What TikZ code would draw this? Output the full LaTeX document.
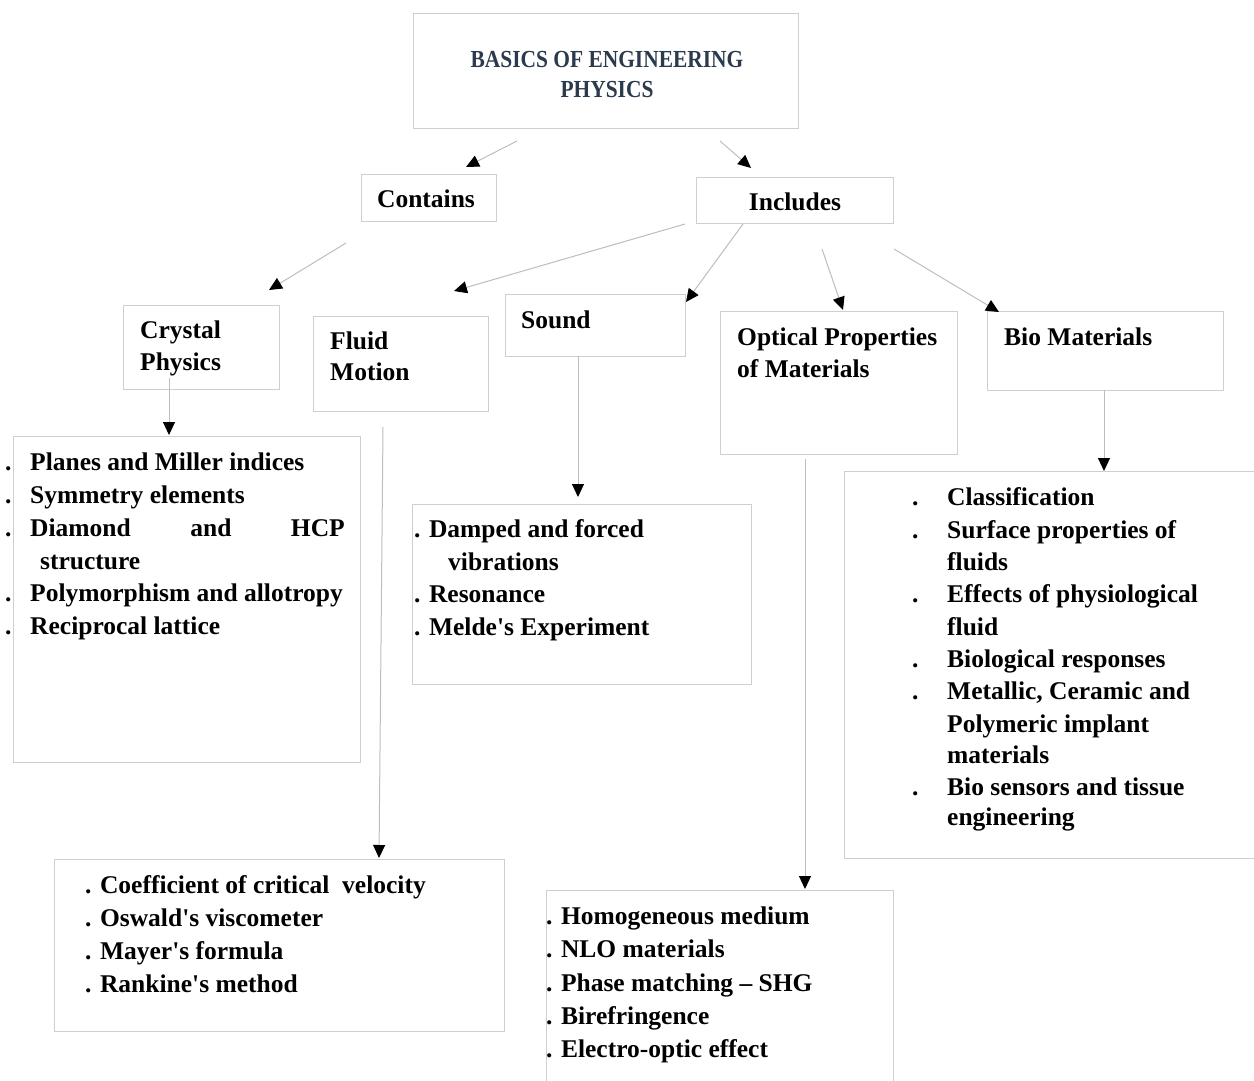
\documentclass[tikz,border=0pt]{standalone}
\usepackage{fontspec}
\setmainfont{Liberation Serif}
\newfontfamily\headfont{Liberation Serif}[FakeStretch=0.875]
\usetikzlibrary{arrows.meta,calc}

\definecolor{boxline}{HTML}{CFCFCF}
\definecolor{linkline}{HTML}{BDBDBD}
\definecolor{headink}{HTML}{2B3A4C}
\newcommand{\apos}{\textquotesingle}

\begin{document}
\begin{tikzpicture}[x=1pt,y=-1pt,
  box/.style={draw=boxline, line width=1.2pt, anchor=north west, inner sep=0pt},
  txt/.style={anchor=base west, inner sep=0pt, font=\fontsize{25.5}{33}\selectfont\bfseries},
  head/.style={anchor=base, inner sep=0pt, text=headink, font=\headfont\fontsize{24.5}{30}\selectfont\bfseries},
  link/.style={draw=linkline, line width=1pt, -{Triangle[length=13pt,width=12pt,color=black]}}]

\useasboundingbox (0,0) rectangle (1254,1081);

% ---------- boxes ----------
\node[box, minimum width=385pt, minimum height=115pt] (title) at (413,13) {};
\node[box, minimum width=135pt, minimum height=47pt] (contains) at (361,174) {};
\node[box, minimum width=197pt, minimum height=46pt] (includes) at (696,177) {};
\node[box, minimum width=156pt, minimum height=84pt] (crystal) at (123,305) {};
\node[box, minimum width=175pt, minimum height=95pt] (fluid) at (313,316) {};
\node[box, minimum width=180pt, minimum height=62pt] (sound) at (505,294) {};
\node[box, minimum width=237pt, minimum height=143pt] (optical) at (720,311) {};
\node[box, minimum width=236pt, minimum height=79pt] (bio) at (987,311) {};
\node[box, minimum width=347pt, minimum height=326pt] (crystallist) at (13,436) {};
\node[box, minimum width=450pt, minimum height=172pt] (fluidlist) at (54,859) {};
\node[box, minimum width=339pt, minimum height=180pt] (soundlist) at (412,504) {};
\node[box, minimum width=347pt, minimum height=200pt] (opticallist) at (546,890) {};
\node[box, minimum width=420pt, minimum height=387pt] (biolist) at (844,471) {};

% ---------- headings ----------
\node[head] (h1) at (607,67) {BASICS OF ENGINEERING};
\node[head] (h2) at (607,97) {PHYSICS};
\node[txt, anchor=base] (lcontains) at (426,207) {Contains};
\node[txt, anchor=base] (lincludes) at (795,210) {Includes};
\node[txt] (lcrys1) at (140,338) {Crystal};
\node[txt] (lcrys2) at (140,370) {Physics};
\node[txt] (lflu1) at (330,349) {Fluid};
\node[txt] (lflu2) at (330,380) {Motion};
\node[txt] (lsound) at (521,328) {Sound};
\node[txt] (lopt1) at (737,345) {Optical Properties};
\node[txt] (lopt2) at (737,377) {of Materials};
\node[txt] (lbio) at (1004,345) {Bio Materials};

% ---------- crystal physics list ----------
\foreach \yy/\t [count=\i] in {470/Planes and Miller indices, 503/Symmetry elements,
  536/Diamond, 601/Polymorphism and allotropy, 634/Reciprocal lattice}{
  \node[txt] (cd\i) at (5,\yy) {.};
  \node[txt] (ct\i) at (30,\yy) {\t};
}
\node[txt, anchor=base] (cand) at (211,536) {and};
\node[txt, anchor=base east] (chcp) at (345,536) {HCP};
\node[txt] (cstruct) at (40,569) {structure};

% ---------- sound list ----------
\node[txt] (s1) at (414,537) {. Damped and forced};
\node[txt] (s1b) at (448,570) {vibrations};
\node[txt] (s2) at (414,602) {. Resonance};
\node[txt] (s3) at (414,635) {. Melde\apos s Experiment};

% ---------- fluid motion list ----------
\node[txt] (f1) at (85,893) {. Coefficient of critical\ \ velocity};
\node[txt] (f2) at (85,926) {. Oswald\apos s viscometer};
\node[txt] (f3) at (85,959) {. Mayer\apos s formula};
\node[txt] (f4) at (85,992) {. Rankine\apos s method};

% ---------- optical list ----------
\node[txt] (o1) at (546,924) {. Homogeneous medium};
\node[txt] (o2) at (546,957) {. NLO materials};
\node[txt] (o3) at (546,991) {. Phase matching -- SHG};
\node[txt] (o4) at (546,1024) {. Birefringence};
\node[txt] (o5) at (546,1057) {. Electro-optic effect};

% ---------- bio materials list ----------
\foreach \yy in {505,538,602,667,699,795}{
  \node[txt] at (912,\yy) {.};
}
\foreach \yy/\t [count=\i] in {505/Classification, 538/Surface properties of, 570/fluids,
  602/Effects of physiological, 635/fluid, 667/Biological responses,
  699/{Metallic, Ceramic and}, 732/Polymeric implant, 763/materials,
  795/Bio sensors and tissue, 825/engineering}{
  \node[txt] (b\i) at (947,\yy) {\t};
}

% ---------- connectors ----------
\coordinate (a1s) at (517,141);  \coordinate (a1e) at (466,167);
\coordinate (a2s) at (720,141);  \coordinate (a2e) at (751,168);
\coordinate (a3s) at (346,243);  \coordinate (a3e) at (269,290);
\coordinate (a4s) at (685,224);  \coordinate (a4e) at (454,291);
\coordinate (a5s) at (743,224);  \coordinate (a5e) at (686,302);
\coordinate (a6s) at (822,249);  \coordinate (a6e) at (843,310);
\coordinate (a7s) at (894,249);  \coordinate (a7e) at (999,312);
\coordinate (a8s) at (169,378);  \coordinate (a8e) at (169,435);
\coordinate (a9s) at (383,427);  \coordinate (a9e) at (379,858);
\coordinate (a10s) at (578,356); \coordinate (a10e) at (578,497);
\coordinate (a11s) at (805,459); \coordinate (a11e) at (805,889);
\coordinate (a12s) at (1104,390);\coordinate (a12e) at (1104,471);

\foreach \k in {1,...,12}{
  \draw[link] (a\k s) -- (a\k e);
}
\end{tikzpicture}
\end{document}
